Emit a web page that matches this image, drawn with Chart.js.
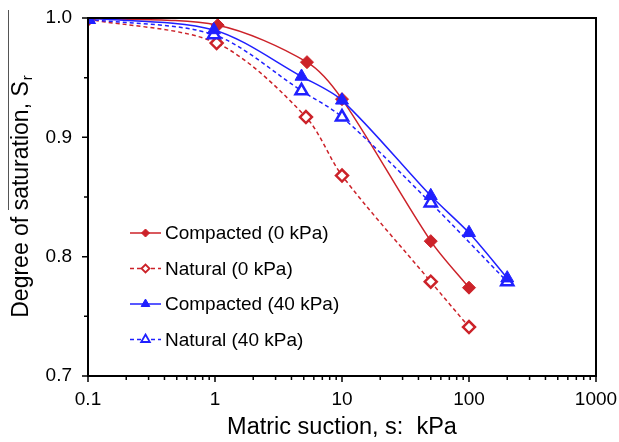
<!DOCTYPE html>
<html>
<head>
<meta charset="utf-8">
<script src="https://cdn.jsdelivr.net/npm/chart.js@4.4.1/dist/chart.umd.min.js"></script>
<style>
  body { margin: 0; background: #fff; }
  #wrap { width: 619px; height: 442px; }
</style>
</head>
<body>
<div id="wrap"><canvas id="swcc" width="619" height="442"></canvas></div>
<script>
// matric suction (kPa) and degree of saturation
const suctionC0 = [0.1, 1.05, 5.3, 10, 50, 100];
const srC0 = [1.0, 0.994, 0.963, 0.932, 0.813, 0.774];

const suctionN0 = [0.1, 1.03, 5.2, 10, 50, 100];
const srN0 = [0.999, 0.979, 0.917, 0.868, 0.779, 0.741];

const suctionC40 = [0.1, 0.98, 4.8, 10, 50, 100, 200];
const srC40 = [1.0, 0.990, 0.951, 0.931, 0.851, 0.820, 0.782];

const suctionN40 = [0.1, 0.98, 4.8, 10, 50, 200];
const srN40 = [0.999, 0.986, 0.939, 0.917, 0.845, 0.779];

const xTickLabels = [0.1, 1, 10, 100, 1000];
const yTickLabels = [0.7, 0.8, 0.9, 1.0];
const seriesNames = ["Compacted (0 kPa)", "Natural (0 kPa)", "Compacted (40 kPa)", "Natural (40 kPa)"];

const RED = "#cc2229";
const BLUE = "#2020ff";
const FONT = "Arial, 'Liberation Sans', sans-serif";

function toPoints(xs, ys) {
    return xs.map((x, i) => ({ x: x, y: ys[i] }));
}

const styles = [
    { color: RED, shape: "rectRot", filled: true, dash: [], r: 6.5, lr: 4 },
    { color: RED, shape: "rectRot", filled: false, dash: [4, 3], r: 6, lr: 4 },
    { color: BLUE, shape: "triangle", filled: true, dash: [], r: 7.5, lr: 5 },
    { color: BLUE, shape: "triangle", filled: false, dash: [4, 3], r: 7, lr: 5 }
];

function makeDataset(i, points, order) {
    const s = styles[i];
    return {
        label: seriesNames[i],
        data: points,
        order: order,
        borderColor: s.color,
        borderWidth: 1.5,
        borderDash: s.dash,
        tension: 0.3,
        pointStyle: s.shape,
        pointRadius: s.r,
        pointHoverRadius: s.r,
        pointBackgroundColor: s.filled ? s.color : "#ffffff",
        pointBorderColor: s.color,
        pointBorderWidth: s.filled ? 1 : 2.5
    };
}

function marker(ctx, shape, x, y, r) {
    ctx.beginPath();
    if (shape === "rectRot") {
        ctx.moveTo(x - r, y);
        ctx.lineTo(x, y - r);
        ctx.lineTo(x + r, y);
        ctx.lineTo(x, y + r);
    } else {
        ctx.moveTo(x, y - r);
        ctx.lineTo(x + 0.866 * r, y + 0.5 * r);
        ctx.lineTo(x - 0.866 * r, y + 0.5 * r);
    }
    ctx.closePath();
}

const decorPlugin = {
    id: "decor",
    afterDraw(chart) {
        const ctx = chart.ctx;
        const area = chart.chartArea;
        const xs = chart.scales.x;
        const ys = chart.scales.y;
        ctx.save();

        // frame round the plot
        ctx.strokeStyle = "#000";
        ctx.lineWidth = 2;
        ctx.strokeRect(area.left, area.top, area.right - area.left, area.bottom - area.top);

        // x tick marks, major at decades
        ctx.lineWidth = 1.5;
        ctx.beginPath();
        for (let d = 0.1; d < 1000; d *= 10) {
            for (let m = 1; m <= 9; m++) {
                const px = xs.getPixelForValue(d * m);
                const len = m === 1 ? 6 : 4;
                ctx.moveTo(px, area.bottom);
                ctx.lineTo(px, area.bottom + len);
            }
        }
        const pEnd = xs.getPixelForValue(1000);
        ctx.moveTo(pEnd, area.bottom);
        ctx.lineTo(pEnd, area.bottom + 6);
        // y tick marks
        for (let v = 0.7; v <= 1.0001; v += 0.05) {
            const py = ys.getPixelForValue(v);
            const major = Math.round(v * 100) % 10 === 0;
            ctx.moveTo(area.left, py);
            ctx.lineTo(area.left - (major ? 6 : 4), py);
        }
        ctx.stroke();

        // y axis title with subscript r
        const main = "Degree of saturation, S";
        ctx.font = "23px " + FONT;
        const w1 = ctx.measureText(main).width;
        ctx.font = "15px " + FONT;
        const w2 = ctx.measureText("r").width;
        const cy = (area.top + area.bottom) / 2;
        ctx.translate(28, cy + (w1 + w2) / 2);
        ctx.rotate(-Math.PI / 2);
        ctx.fillStyle = "#000";
        ctx.textAlign = "left";
        ctx.textBaseline = "alphabetic";
        ctx.font = "23px " + FONT;
        ctx.fillText(main, 0, 0);
        ctx.font = "15px " + FONT;
        ctx.fillText("r", w1 + 1, 4);
        ctx.setTransform(1, 0, 0, 1, 0, 0);

        // thin line left of the title, as in the source figure
        ctx.strokeStyle = "#555";
        ctx.lineWidth = 1;
        ctx.beginPath();
        ctx.moveTo(8.5, 10);
        ctx.lineTo(8.5, 210);
        ctx.stroke();

        // legend inside the plot
        const lx = area.left + 42;
        ctx.font = "19px " + FONT;
        ctx.textBaseline = "middle";
        seriesNames.forEach((name, i) => {
            const s = styles[i];
            const ly = area.top + 215 + i * 35.5;
            ctx.strokeStyle = s.color;
            ctx.lineWidth = 1.5;
            ctx.setLineDash(s.dash);
            ctx.beginPath();
            ctx.moveTo(lx, ly);
            ctx.lineTo(lx + 31, ly);
            ctx.stroke();
            ctx.setLineDash([]);
            marker(ctx, s.shape, lx + 15.5, ly, s.lr);
            ctx.fillStyle = s.filled ? s.color : "#fff";
            ctx.fill();
            ctx.lineWidth = s.filled ? 1 : 1.8;
            ctx.stroke();
            ctx.fillStyle = "#000";
            ctx.fillText(name, lx + 35, ly + 1);
        });
        ctx.restore();
    }
};

new Chart(document.getElementById("swcc").getContext("2d"), {
    type: "line",
    data: {
        datasets: [
            makeDataset(0, toPoints(suctionC0, srC0), 3),
            makeDataset(1, toPoints(suctionN0, srN0), 4),
            makeDataset(2, toPoints(suctionC40, srC40), 1),
            makeDataset(3, toPoints(suctionN40, srN40), 2)
        ]
    },
    options: {
        responsive: false,
        animation: false,
        layout: { padding: { top: 18, right: 23, left: 0, bottom: 0 } },
        plugins: { legend: { display: false }, tooltip: { enabled: false } },
        scales: {
            x: {
                type: "logarithmic",
                min: 0.1,
                max: 1000,
                grid: { display: false, drawTicks: false },
                border: { display: false },
                afterBuildTicks: (scale) => { scale.ticks = xTickLabels.map(v => ({ value: v })); },
                afterFit: (scale) => {
                    scale.height = 66;
                    scale.paddingLeft = 0;
                    scale.paddingRight = 0;
                },
                ticks: {
                    autoSkip: false,
                    maxRotation: 0,
                    padding: 12,
                    color: "#000",
                    font: { family: FONT, size: 19 },
                    callback: (value) => String(value)
                },
                title: {
                    display: true,
                    text: "Matric suction, s:  kPa",
                    color: "#000",
                    font: { family: FONT, size: 23.5 },
                    padding: { top: 0, bottom: 0 }
                }
            },
            y: {
                min: 0.7,
                max: 1.0,
                grid: { display: false, drawTicks: false },
                border: { display: false },
                afterBuildTicks: (scale) => { scale.ticks = yTickLabels.map(v => ({ value: v })); },
                afterFit: (scale) => {
                    scale.width = 88;
                    scale.paddingTop = 0;
                    scale.paddingBottom = 0;
                },
                ticks: {
                    padding: 16,
                    color: "#000",
                    font: { family: FONT, size: 19 },
                    callback: (value) => value.toFixed(1)
                }
            }
        }
    },
    plugins: [decorPlugin]
});
</script>
</body>
</html>
